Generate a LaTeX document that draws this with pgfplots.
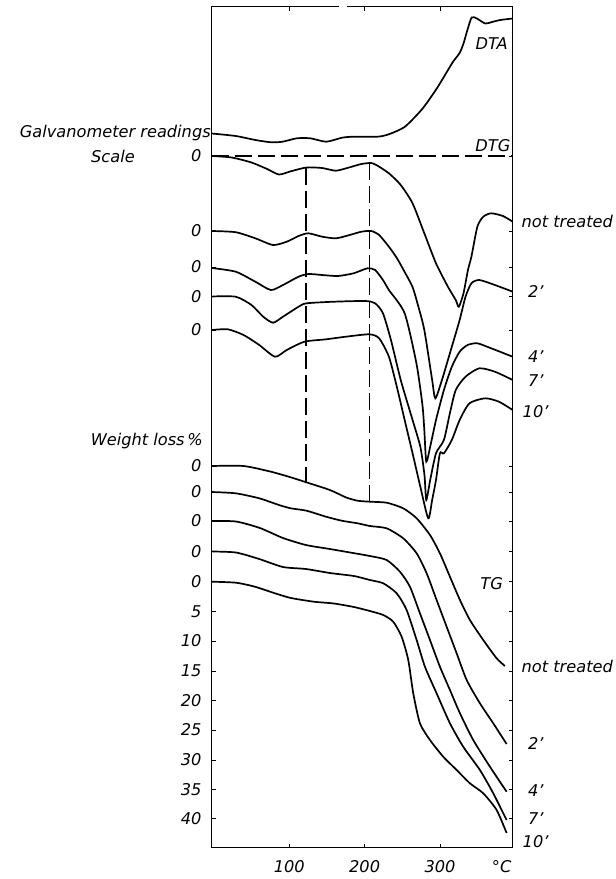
\documentclass[border=0pt]{standalone}
\usepackage{pgfplots}
\pgfplotsset{compat=1.18}
\usepackage{fontspec}
\setmainfont{DejaVu Sans}
\usetikzlibrary{calc}
\newcommand\lf{\fontsize{16.2}{19}\selectfont\itshape}
\tikzset{lbl/.style={font=\lf, inner sep=0pt}}
\begin{document}
\begin{tikzpicture}
\begin{axis}[
  name=ax,
  scale only axis, width=301pt, height=840.8pt,
  xmin=-3, xmax=396.5, ymin=6.7, ymax=847.5, y dir=reverse,
  clip=false,
  axis line style={line width=1pt},
  xtick={100,200,300}, xticklabels={100,200,300},
  extra x ticks={381.8}, extra x tick labels={°C},
  extra x tick style={major tick length=0pt},
  ytick={156,231,267,296.5,330,466,492,521,551.5,581.7,611.3,641,671,700.3,730,760,789.3,818.7},
  yticklabels={0,0,0,0,0,0,0,0,0,0,5,10,15,20,25,30,35,40},
  tick align=inside, major tick length=4pt,
  tick style={line width=0.8pt, black},
  xticklabel style={font=\lf, anchor=north, inner sep=0pt, yshift=-13pt},
  yticklabel style={font=\lf, anchor=east, inner sep=0pt, xshift=-10pt},
  curve/.style={black, line width=1.7pt, smooth, tension=0.4},
  dsh/.style={black, line width=1.5pt, dash pattern=on 17pt off 6pt},
]
% DTA
\addplot[curve] coordinates {(-3,133.5) (29,136) (55,140) (76,142.3) (91,141.7) (110,138.3) (128,138.3) (149,141.7) (170,137.7) (185,136.7) (217,136.7) (232,134.3) (253,127) (273,112) (282,103.5) (297,87) (313,67) (318,61) (326,53) (331,44) (336,31) (342,17.5) (349,18.5) (360,23.5) (369,22) (380,20) (396.5,18.5)};
% DTG reference line and markers
\addplot[dsh] coordinates {(-3,156) (396.5,156)};
\addplot[dsh] coordinates {(122.1,168) (122.1,481.7)};
\addplot[dsh] coordinates {(206.6,163.3) (206.6,501.7)};
% DTG not treated
\addplot[curve] coordinates {(-3,156) (23.6,157.5) (49.8,162.5) (70.6,169) (86.3,174.5) (101.9,171.3) (122.8,167.5) (143.6,168) (161.9,170.7) (180.1,167.3) (195.7,164) (208.7,163) (216.6,165.5) (232.2,173.3) (247.9,185) (263.6,203.3) (279.2,233.3) (294.7,263.3) (310.5,286.7) (320.9,300) (325,306.7) (331.2,293.3) (337.1,270) (341.7,256.7) (349.6,226.7) (357.4,216.7) (367.9,213.3) (383.5,216) (396.5,221.7)};
% DTG 2'
\addplot[curve] coordinates {(-3,231) (28.9,232.2) (54.9,238.3) (78.4,245) (96.6,241.7) (112.3,236) (125.3,233.3) (143.6,236.7) (161.9,238.3) (180.1,235) (195.7,231.7) (208.7,231) (219.2,235) (232.2,246.7) (242.7,258) (253.1,272) (263.6,287) (270.7,305) (279.2,330) (289.6,380) (293.8,398.3) (302.6,380) (315.7,346.7) (326.1,320) (333.9,296.7) (341.7,283.3) (352.2,280) (372.9,285) (396.5,291.7)};
% DTG 4'
\addplot[curve] coordinates {(-3,268) (28.9,271.7) (54.9,281.7) (75.6,290) (91.6,285) (112.3,276.7) (125.3,274) (143.6,275) (164.4,276) (185.3,273.3) (203.6,268.3) (213.9,270) (224.3,280) (232.2,290) (253.1,313.3) (268.7,363.3) (276.7,405) (279.2,430) (281.8,461.7) (287,446.7) (294.7,420) (305.2,390) (315.7,366.7) (326.1,351.7) (336.6,345) (349.6,343.3) (367.9,348.3) (396.5,356.7)};
% DTG 7'
\addplot[curve] coordinates {(-3,296.5) (28.9,296.7) (49.8,305) (65.4,316.7) (78.4,322.7) (91.6,316.7) (112.3,306.7) (122.8,303.3) (159.3,301.7) (200.9,301) (213.9,303.3) (224.3,313.3) (234.9,340) (247.9,380) (263.6,420) (273.9,446.7) (279.4,475) (281.8,500) (287,480) (294.7,453.3) (305.2,440) (313.1,413.3) (320.9,390) (333.9,376.7) (352.2,368.3) (372.9,371.7) (396.5,380)};
% DTG 10'
\addplot[curve] coordinates {(-3,330) (18.4,329.3) (39.3,335) (60.1,345) (81,356.7) (96.6,350) (120.1,341.7) (148.8,339.3) (174.9,336.7) (206.2,334.3) (219.2,338.3) (232.2,356.7) (242.7,386.7) (253.1,420) (263.6,453.3) (273.9,486.7) (284.4,518.3) (289.6,500) (294.7,480) (299.9,453.3) (305.2,453.3) (315.7,440) (326.1,420) (339.1,403.3) (360,398.3) (378.2,401.7) (396.5,410)};
% TG not treated
\addplot[curve] coordinates {(-3,466) (39.3,466) (75.6,471.7) (101.9,477.3) (120.1,481.7) (153.9,490) (174.9,497.3) (190.6,500.7) (207,501.7) (229.2,502.7) (251.2,508.3) (269,518.3) (286.7,535) (299.9,553.3) (313.2,576.7) (326.5,600) (339.7,620) (357.4,640) (375.2,658.3) (386.2,666)};
% TG 2'
\addplot[curve] coordinates {(-3,492) (28.9,493.3) (60.1,498.3) (86.3,505) (101.9,508.3) (122.8,510.7) (148.8,516.7) (169.6,520.7) (190.6,523.3) (207,526) (229.2,528.3) (251.2,538.3) (269,553.3) (282.3,573.3) (295.5,600) (308.8,626.7) (322.1,653.3) (335.4,680) (353,703.3) (370.7,723.3) (388.4,744)};
% TG 4'
\addplot[curve] coordinates {(-3,521) (29.2,521.5) (61,528) (91.6,538) (122.1,545) (153.9,549) (184.5,553) (207,556) (229.2,560) (246.8,571.7) (260.1,586.7) (273.4,613.3) (286.7,640) (299.9,666.7) (313.2,690) (326.5,713.3) (344.1,740) (366.3,766.7) (388.4,791.7)};
% TG 7'
\addplot[curve] coordinates {(-3,551.5) (29.2,552.5) (60.1,559) (91.6,567) (122.1,569) (153.9,573) (185.8,576) (207,580) (224.7,583.3) (242.5,593.3) (255.7,610) (269,640) (280,666.7) (295.5,693.3) (313.2,723.3) (330.8,746.7) (353,770) (370.7,793.3) (388.4,820)};
% TG 10'
\addplot[curve] coordinates {(-3,581.7) (29.2,582.7) (54.4,586.7) (81,593.3) (102.2,598) (132.7,601.7) (159.3,603.5) (185.8,607) (207,611) (224.7,615) (237.9,621.7) (249.1,636.7) (257.9,660) (264.5,693.3) (273.4,723.3) (286.7,740) (304.3,756.7) (322.1,770) (339.7,783.3) (357.4,793.3) (375.2,810) (388.4,833)};
% gap in top frame
\draw[white, line width=3pt] (axis cs:166,6.7) -- (axis cs:177,6.7);
% labels
\node[lbl, anchor=base east] at (axis cs:-4,137.5) {Galvanometer readings};
\node[lbl, anchor=base] at (axis cs:-134,162.5) {Scale};
\node[lbl, anchor=base east] at (axis cs:-14.6,445) {Weight loss\,\%};
\node[lbl, anchor=base] at (axis cs:368.5,49.3) {DTA};
\node[lbl, anchor=base] at (axis cs:370.3,151) {DTG};
\node[lbl, anchor=base] at (axis cs:368.5,589.3) {TG};
\node[lbl, anchor=base west] at (axis cs:408.2,227.7) {not treated};
\node[lbl, anchor=base west] at (axis cs:416.7,297.7) {2'};
\node[lbl, anchor=base west] at (axis cs:416.7,362.7) {4'};
\node[lbl, anchor=base west] at (axis cs:416.7,386) {7'};
\node[lbl, anchor=base west] at (axis cs:409.5,417.7) {10'};
\node[lbl, anchor=base west] at (axis cs:408.2,672.7) {not treated};
\node[lbl, anchor=base west] at (axis cs:416.7,749) {2'};
\node[lbl, anchor=base west] at (axis cs:416.7,796) {4'};
\node[lbl, anchor=base west] at (axis cs:416.7,824) {7'};
\node[lbl, anchor=base west] at (axis cs:409.5,847.7) {10'};
\coordinate (bl) at (axis cs:-3,847.5);
\coordinate (tr) at (axis cs:396.5,6.7);
\end{axis}
\pgfresetboundingbox
\path[use as bounding box] ($(bl)+(-211.7pt,-31.5pt)$) rectangle ($(tr)+(103.3pt,6.7pt)$);
\end{tikzpicture}
\end{document}
